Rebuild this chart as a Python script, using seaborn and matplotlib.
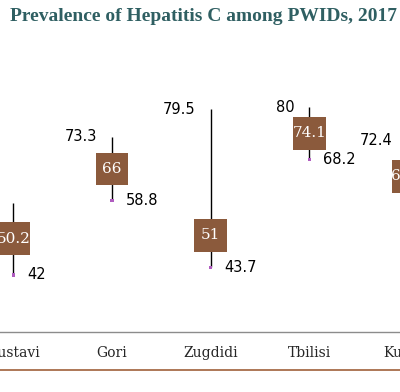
import matplotlib
matplotlib.use("Agg")
import matplotlib.pyplot as plt
from matplotlib.lines import Line2D
import pandas as pd
import seaborn as sns

cities = ["Rustavi", "Gori", "Zugdidi", "Tbilisi", "Kutaisi"]
point = [50.2, 66.0, 51.0, 74.1, 64.3]
lower = [42.0, 58.8, 43.7, 68.2, 56.5]
upper = [58.2, 73.3, 79.5, 80.0, 72.4]

df = pd.DataFrame({"city": cities, "point": point, "lower": lower, "upper": upper})
df["pos"] = range(len(df))

sns.set_style("white")
fig = plt.figure(figsize=(4.0, 3.92), dpi=100)
# axes is wider than the figure: the reference is a crop of a wider chart
ax = fig.add_axes([-0.5, 0.1523, 2.0, 0.7431])

ax.vlines(df["pos"], df["lower"], df["upper"], color="black", lw=1, zorder=1)
sns.scatterplot(data=df, x="pos", y="lower", marker="s", s=6, color="#B05CC0",
                edgecolor="none", ax=ax, zorder=2)
sns.scatterplot(data=df, x="pos", y="point", marker="s", s=560, color="#8B5A3C",
                edgecolor="none", ax=ax, zorder=3)

for _, r in df.iterrows():
    ax.text(r["pos"], r["point"], f"{r['point']:g}", color="white", ha="center",
            va="center", fontsize=11, family="DejaVu Serif", zorder=4)
    ax.annotate(f"{r['upper']:g}", (r["pos"], r["upper"]), xytext=(-11, 0),
                textcoords="offset points", ha="right", va="center",
                fontsize=10.5, color="black")
    ax.annotate(f"{r['lower']:g}", (r["pos"], r["lower"]), xytext=(10, 0),
                textcoords="offset points", ha="left", va="center",
                fontsize=10.5, color="black")

ax.set_xlim(-2.161, 5.944)
ax.set_ylim(29, 95)
ax.set_xticks(df["pos"])
ax.set_xticklabels(cities, family="DejaVu Serif", fontsize=10)
ax.set_yticks([])
ax.set_xlabel("")
ax.set_ylabel("")
ax.tick_params(axis="x", length=0, pad=10)
for s in ["top", "left", "right"]:
    ax.spines[s].set_visible(False)
ax.spines["bottom"].set_color("#8C8C8C")
ax.spines["bottom"].set_linewidth(1)

fig.add_artist(Line2D([0, 1], [0.0554, 0.0554], color="#A0603A", lw=1.2,
                      transform=fig.transFigure))
fig.text(0.508, 0.958, "Prevalence of Hepatitis C among PWIDs, 2017",
         ha="center", va="center", fontsize=14, fontweight="bold",
         family="Liberation Serif", color="#2F5F62")

fig.savefig("out.png", dpi=100)
